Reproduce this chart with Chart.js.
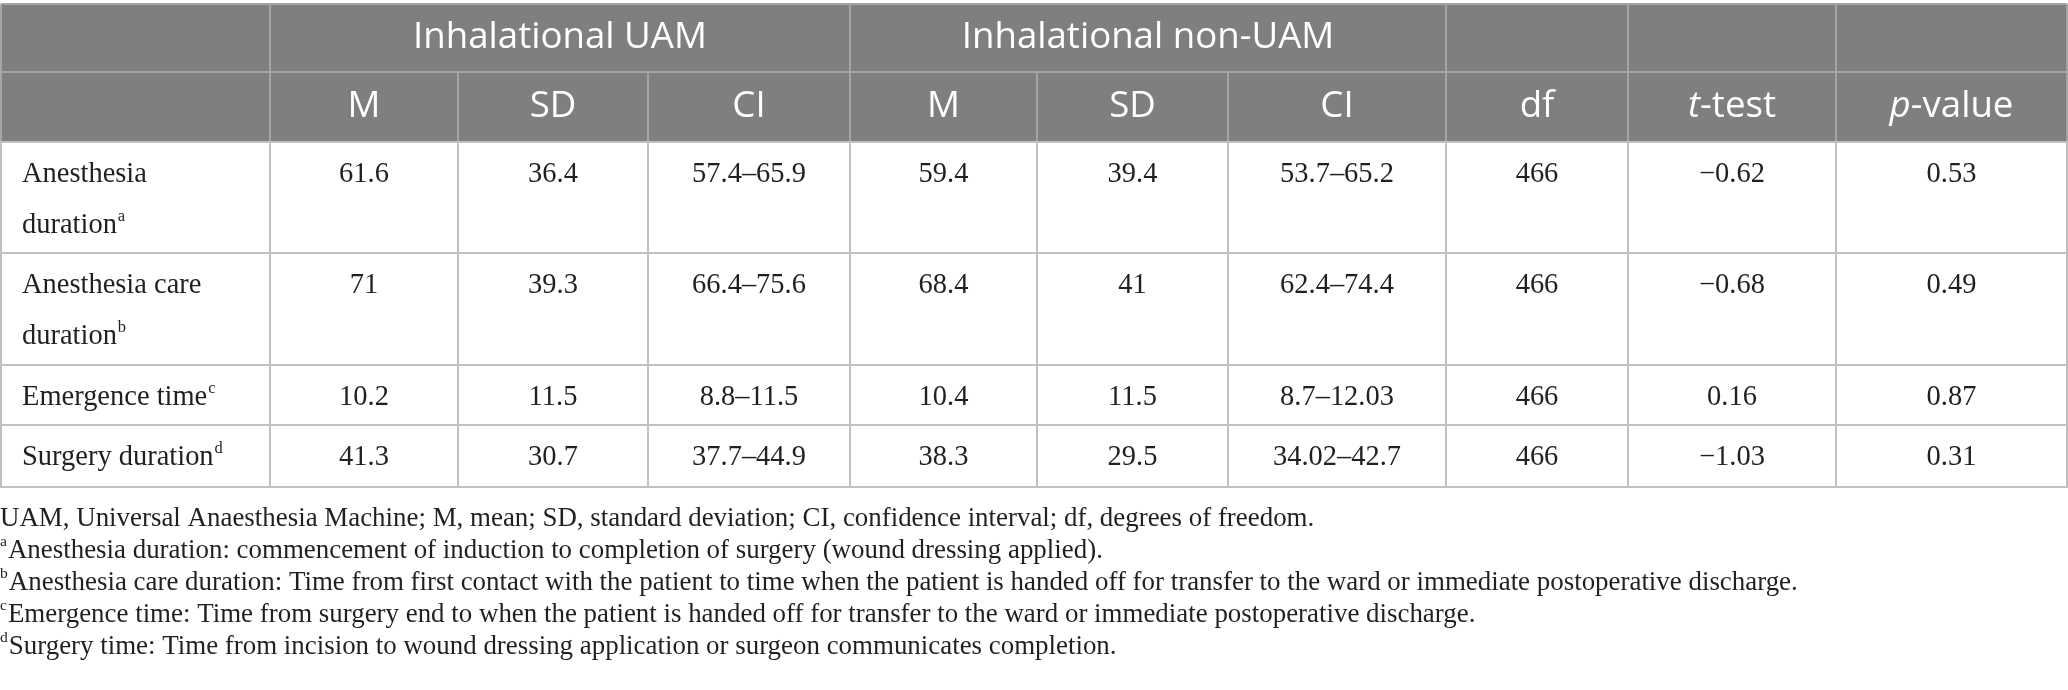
<!DOCTYPE html>
<html>
<head>
<meta charset="utf-8">
<script src="https://cdn.jsdelivr.net/npm/chart.js@4.4.1/dist/chart.umd.min.js"></script>
<style>
html,body{margin:0;padding:0;background:#ffffff;}
#wrap{width:2068px;height:690px;position:relative;}
</style>
</head>
<body>
<div id="wrap"><canvas id="c"></canvas></div>
<script>
// ---------------- data ----------------
const groupLabels = ["Inhalational UAM", "Inhalational non-UAM"];
const columnLabels = ["M", "SD", "CI", "M", "SD", "CI", "df", "t-test", "p-value"];
const rowLabels = [["Anesthesia", "duration"], ["Anesthesia care", "duration"], ["Emergence time"], ["Surgery duration"]];
const rowNotes = ["a", "b", "c", "d"];
const uamMean = [61.6, 71, 10.2, 41.3];
const uamSD = [36.4, 39.3, 11.5, 30.7];
const uamCILow = [57.4, 66.4, 8.8, 37.7];
const uamCIHigh = [65.9, 75.6, 11.5, 44.9];
const nonMean = [59.4, 68.4, 10.4, 38.3];
const nonSD = [39.4, 41, 11.5, 29.5];
const nonCILow = [53.7, 62.4, 8.7, 34.02];
const nonCIHigh = [65.2, 74.4, 12.03, 42.7];
const dfValues = [466, 466, 466, 466];
const tValues = [-0.62, -0.68, 0.16, -1.03];
const pValues = [0.53, 0.49, 0.87, 0.31];
const footnoteNotes = ["", "a", "b", "c", "d"];
const footnoteTexts = [
  "UAM, Universal Anaesthesia Machine; M, mean; SD, standard deviation; CI, confidence interval; df, degrees of freedom.",
  "Anesthesia duration: commencement of induction to completion of surgery (wound dressing applied).",
  "Anesthesia care duration: Time from first contact with the patient to time when the patient is handed off for transfer to the ward or immediate postoperative discharge.",
  "Emergence time: Time from surgery end to when the patient is handed off for transfer to the ward or immediate postoperative discharge.",
  "Surgery time: Time from incision to wound dressing application or surgeon communicates completion."
];

// ---------------- layout (layout units = scale values) ----------------
const colEdges = [1, 270, 458, 648, 850, 1037, 1228, 1446, 1628, 1836, 2067];
const groupSpans = [[1, 4], [4, 7]];
const rowEdges = [4, 72, 142, 253, 365, 425, 487];
const firstLineOffset = 33, lineGap = 51, labelPad = 21;
const footnoteY = [519, 551, 583, 615, 647];

const HEADER_BG = "#7f7f7f";
const HEADER_LINE = "#a4a4a4";
const BODY_LINE = "#c0c0c0";
const TEXT = "#231f20";
const SERIF = '"Liberation Serif", "Times New Roman", serif';
const SANS = '"Open Sans", "Noto Sans", sans-serif';

// ---------------- helpers ----------------
const fmt = v => String(v).replace("-", "\u2212");
const ci = (lo, hi) => lo.map((l, i) => fmt(l) + "\u2013" + fmt(hi[i]));
const columnValues = [
  uamMean.map(fmt), uamSD.map(fmt), ci(uamCILow, uamCIHigh),
  nonMean.map(fmt), nonSD.map(fmt), ci(nonCILow, nonCIHigh),
  dfValues.map(fmt), tValues.map(fmt), pValues.map(fmt)
];
const colCenter = j => (colEdges[j + 1] + colEdges[j + 2]) / 2;

const datasets = [];
datasets.push({
  label: "rows",
  kind: "label",
  data: rowLabels.map((lines, i) => ({ x: colEdges[0] + labelPad, y: rowEdges[i + 2] + firstLineOffset, lines: lines, note: rowNotes[i] })),
  pointRadius: 0, pointHoverRadius: 0
});
columnLabels.forEach((c, j) => {
  datasets.push({
    label: c,
    kind: "value",
    data: columnValues[j].map((t, i) => ({ x: colCenter(j), y: rowEdges[i + 2] + firstLineOffset, t: t })),
    pointRadius: 0, pointHoverRadius: 0
  });
});
datasets.push({
  label: "notes",
  kind: "foot",
  data: footnoteTexts.map((t, i) => ({ x: 0, y: footnoteY[i], t: t, note: footnoteNotes[i] })),
  pointRadius: 0, pointHoverRadius: 0
});

let fonts = null;
function fitFonts(ctx) {
  if (fonts) return fonts;
  ctx.save();
  ctx.font = '30px ' + SANS;
  const hs = 30 * 294 / ctx.measureText("Inhalational UAM").width;
  ctx.font = '28px ' + SERIF;
  const b1 = 28 * 181 / ctx.measureText("Anesthesia care").width;
  const b2 = 28 * 113 / ctx.measureText("57.4\u201365.9").width;
  ctx.font = '26px ' + SERIF;
  const fs = 26 * 1790 / ctx.measureText(footnoteTexts[2]).width;
  ctx.restore();
  fonts = { header: hs, body: (b1 + b2) / 2, foot: fs };
  return fonts;
}

function drawWithSup(ctx, text, note, size, x, y, noteFirst) {
  const main = size + 'px ' + SERIF;
  const sup = (size * 0.58) + 'px ' + SERIF;
  ctx.textAlign = "left";
  ctx.textBaseline = "middle";
  let cx = x;
  if (noteFirst && note) {
    ctx.font = sup; ctx.fillText(note, cx, y - size * 0.32); cx += ctx.measureText(note).width + 1;
  }
  ctx.font = main; ctx.fillText(text, cx, y); cx += ctx.measureText(text).width;
  if (!noteFirst && note) {
    ctx.font = sup; ctx.fillText(note, cx + 1, y - size * 0.32);
  }
}

const tablePlugin = {
  id: "tablePlugin",
  beforeDatasetsDraw(chart) {
    const { ctx, scales: { x, y } } = chart;
    const px = v => x.getPixelForValue(v), py = v => y.getPixelForValue(v);
    const f = fitFonts(ctx);
    ctx.save();
    ctx.fillStyle = HEADER_BG;
    ctx.fillRect(px(colEdges[0]), py(rowEdges[0]), px(colEdges[colEdges.length - 1]) - px(colEdges[0]), py(rowEdges[2]) - py(rowEdges[0]));
    ctx.lineWidth = 2;
    ctx.strokeStyle = HEADER_LINE;
    ctx.beginPath();
    [rowEdges[0], rowEdges[1]].forEach(r => { ctx.moveTo(px(colEdges[0]), py(r)); ctx.lineTo(px(colEdges[colEdges.length - 1]), py(r)); });
    [0, 1, 4, 7, 8, 9, 10].forEach(k => { ctx.moveTo(px(colEdges[k]), py(rowEdges[0])); ctx.lineTo(px(colEdges[k]), py(rowEdges[1])); });
    colEdges.forEach(c => { ctx.moveTo(px(c), py(rowEdges[1])); ctx.lineTo(px(c), py(rowEdges[2])); });
    ctx.stroke();
    ctx.strokeStyle = BODY_LINE;
    ctx.beginPath();
    rowEdges.slice(2).forEach(r => { ctx.moveTo(px(colEdges[0]) - 1, py(r)); ctx.lineTo(px(colEdges[colEdges.length - 1]) + 1, py(r)); });
    colEdges.forEach(c => { ctx.moveTo(px(c), py(rowEdges[2])); ctx.lineTo(px(c), py(rowEdges[rowEdges.length - 1])); });
    ctx.stroke();
    ctx.fillStyle = "#ffffff";
    ctx.textAlign = "center";
    ctx.textBaseline = "middle";
    const hf = f.header + 'px ' + SANS;
    const hfi = 'italic ' + f.header + 'px ' + SANS;
    groupSpans.forEach((s, g) => {
      ctx.font = hf;
      ctx.fillText(groupLabels[g], (px(colEdges[s[0]]) + px(colEdges[s[1]])) / 2, (py(rowEdges[0]) + py(rowEdges[1])) / 2);
    });
    const cy = (py(rowEdges[1]) + py(rowEdges[2])) / 2;
    columnLabels.forEach((lab, j) => {
      const cx = px(colCenter(j));
      const m = lab.match(/^([tp])(-.*)$/);
      if (m) {
        ctx.font = hfi; const w1 = ctx.measureText(m[1]).width;
        ctx.font = hf; const w2 = ctx.measureText(m[2]).width;
        const start = cx - (w1 + w2) / 2;
        ctx.textAlign = "left";
        ctx.font = hfi; ctx.fillText(m[1], start, cy);
        ctx.font = hf; ctx.fillText(m[2], start + w1, cy);
        ctx.textAlign = "center";
      } else {
        ctx.font = hf;
        ctx.fillText(lab, cx, cy);
      }
    });
    ctx.restore();
  },
  afterDatasetsDraw(chart) {
    const { ctx } = chart;
    const f = fitFonts(ctx);
    ctx.save();
    ctx.fillStyle = TEXT;
    chart.data.datasets.forEach((ds, d) => {
      const meta = chart.getDatasetMeta(d);
      meta.data.forEach((el, i) => {
        const item = ds.data[i];
        if (ds.kind === "value") {
          ctx.font = f.body + 'px ' + SERIF;
          ctx.textAlign = "center";
          ctx.textBaseline = "middle";
          ctx.fillText(item.t, el.x, el.y);
        } else if (ds.kind === "label") {
          item.lines.forEach((ln, k) => {
            const last = k === item.lines.length - 1;
            drawWithSup(ctx, ln, last ? item.note : "", f.body, el.x, el.y + k * lineGap, false);
          });
        } else if (ds.kind === "foot") {
          drawWithSup(ctx, item.t, item.note, f.foot, el.x, el.y, true);
        }
      });
    });
    ctx.restore();
  }
};

new Chart(document.getElementById("c"), {
  type: "scatter",
  data: { datasets: datasets },
  options: {
    responsive: true,
    maintainAspectRatio: false,
    animation: false,
    events: [],
    layout: { padding: 0 },
    plugins: { legend: { display: false }, tooltip: { enabled: false } },
    scales: {
      x: { type: "linear", min: 0, max: 2068, display: false },
      y: { type: "linear", min: 0, max: 690, reverse: true, display: false }
    }
  },
  plugins: [tablePlugin]
});
</script>
</body>
</html>
